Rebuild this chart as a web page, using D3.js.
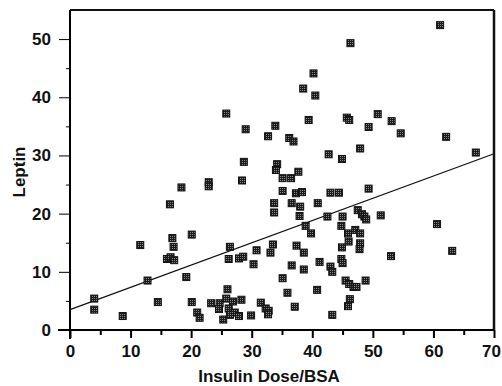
<html>
    <head>
        <meta charset="utf-8">
        <script src="https://d3js.org/d3.v7.min.js"></script>
        <title>Leptin vs Insulin Dose</title>
        <style>
            body { margin: 0; background: white; }
            text { font-family: "Liberation Sans", Arial, sans-serif; font-weight: bold; fill: #111; }
        </style>
    </head>
    <body>
        <svg id="scatter" width="502" height="386"></svg>
        <script>
            // data: [insulin dose/BSA, leptin]
            const xTicks = [0, 10, 20, 30, 40, 50, 60, 70];
            const yTicks = [0, 10, 20, 30, 40, 50];
            const xMinor = [5, 15, 25, 35, 45, 55, 65];
            const yMinor = [5, 15, 25, 35, 45];
            const fitLine = [[0, 3.5], [70, 30.3]];
            const dose = [
                4.0, 4.0, 8.7, 11.6, 12.8, 14.5, 16.5, 16.9, 17.1, 16.0, 16.6, 17.2, 18.4, 19.2, 20.1, 20.1, 21.0, 21.4,
                22.9, 22.9, 25.8, 29.0, 28.7, 28.4, 26.4, 26.2, 27.9, 28.6, 26.0,
                23.3, 24.7, 25.8, 26.9, 28.3, 24.6, 26.2, 27.2, 27.9, 26.4, 25.3, 29.9,
                30.3, 30.8, 31.5, 32.3, 32.8, 32.7, 33.1, 33.5, 33.7, 33.7, 33.9, 32.7, 34.2, 34.0,
                35.1, 36.5, 35.1, 37.3, 38.3, 37.7, 36.2, 36.9,
                36.6, 38.0, 37.9, 40.9, 38.9, 39.8, 37.4, 38.6, 36.6, 38.6, 35.1, 35.9, 37.1,
                38.5, 40.2, 40.5, 39.4,
                40.8, 41.2, 42.5, 42.7, 43.0, 44.4, 43.0, 43.3, 43.3,
                44.8, 45.0, 44.8, 44.9, 45.0, 44.9,
                45.7, 46.1, 46.3, 45.9, 47.1, 47.9, 46.0, 47.9, 47.8,
                45.5, 46.1, 46.8, 47.3, 48.8, 46.2, 45.9,
                47.5, 48.2, 48.6, 48.9,
                47.9, 49.3, 49.3, 50.8, 51.3, 53.1, 54.6, 53.0,
                60.6, 61.1, 62.1, 63.1, 67.0
            ];
            const leptin = [
                5.4, 3.5, 2.4, 14.6, 8.5, 4.8, 21.6, 15.8, 14.3, 12.2, 12.5, 12.0, 24.5, 9.1, 16.4, 4.8, 3.0, 2.1,
                25.4, 24.7, 37.2, 34.5, 28.9, 25.7, 14.3, 12.2, 12.3, 12.6, 7.0,
                4.6, 4.6, 5.4, 4.9, 5.2, 3.6, 3.7, 3.0, 2.4, 2.6, 1.8, 2.5,
                11.3, 13.7, 4.7, 3.7, 3.3, 2.7, 13.3, 14.7, 21.8, 20.2, 35.1, 33.3, 28.5, 27.5,
                26.1, 26.1, 23.9, 23.5, 23.7, 27.2, 33.0, 32.4,
                21.8, 21.2, 19.6, 21.8, 17.9, 16.6, 14.5, 13.3, 11.1, 10.4, 8.9, 6.4, 4.0,
                41.5, 44.1, 40.3, 36.1,
                6.9, 11.7, 19.5, 30.2, 23.6, 23.6, 10.9, 10.0, 2.6,
                12.2, 11.5, 17.9, 14.2, 19.5, 29.4,
                36.5, 36.1, 49.3, 16.6, 17.2, 16.6, 15.2, 14.9, 13.9,
                8.5, 7.9, 7.4, 7.4, 8.5, 5.3, 4.1,
                20.6, 19.9, 19.5, 19.0,
                31.2, 34.9, 24.3, 37.1, 19.7, 35.9, 33.8, 12.7,
                18.2, 52.4, 33.2, 13.6, 30.5
            ];

            const svg = d3.select("#scatter");
            const x = d3.scaleLinear().domain([0, 70]).range([70, 494]);
            const y = d3.scaleLinear().domain([0, 55]).range([330, 10]);

            // halftone fill for the markers
            const pat = svg.append("defs").append("pattern")
                           .attr("id", "dots")
                           .attr("width", 2).attr("height", 2)
                           .attr("patternUnits", "userSpaceOnUse");
            pat.append("rect").attr("width", 2).attr("height", 2).attr("fill", "#1c1c1c");
            pat.append("rect").attr("width", 1).attr("height", 1).attr("fill", "#8a8a8a");

            // frame top and right
            svg.append("line").attr("x1", 70).attr("x2", x(70)).attr("y1", y(55)).attr("y2", y(55))
               .attr("stroke", "#111").attr("stroke-width", 2);
            svg.append("line").attr("x1", x(70)).attr("x2", x(70)).attr("y1", y(55)).attr("y2", y(0))
               .attr("stroke", "#111").attr("stroke-width", 2.5);

            // minor ticks
            svg.append("g").attr("transform", "translate(0,330)")
               .call(d3.axisBottom(x).tickValues(xMinor).tickSize(5).tickFormat(""))
               .call(g => g.select(".domain").remove())
               .selectAll("line").attr("stroke-width", 2);
            svg.append("g").attr("transform", "translate(70,0)")
               .call(d3.axisLeft(y).tickValues(yMinor).tickSize(4).tickFormat(""))
               .call(g => g.select(".domain").remove());

            const xAxis = svg.append("g").attr("transform", "translate(0,330)")
               .call(d3.axisBottom(x).tickValues(xTicks).tickSize(8).tickPadding(7).tickSizeOuter(0));
            xAxis.selectAll("line").attr("stroke-width", 2);
            xAxis.select(".domain").attr("stroke-width", 2).attr("d", "M58,0H" + x(70));
            xAxis.selectAll("text").style("font-size", "17px")
                 .attr("dx", d => d === 70 ? -3 : 0);

            const yAxis = svg.append("g").attr("transform", "translate(70,0)")
               .call(d3.axisLeft(y).tickValues(yTicks).tickSize(11).tickPadding(8).tickSizeOuter(0));
            yAxis.select(".domain").attr("stroke-width", 2).attr("d", "M0," + y(55) + "V339");
            yAxis.selectAll("text").style("font-size", "17px");

            // regression line
            svg.append("path")
               .datum(fitLine)
               .attr("d", d3.line().x(d => x(d[0])).y(d => y(d[1])))
               .attr("fill", "none")
               .attr("stroke", "#111")
               .attr("stroke-width", 1.2);

            const pts = d3.zip(dose, leptin);
            svg.selectAll("rect.pt")
               .data(pts)
               .join("rect")
               .attr("class", "pt")
               .attr("x", d => x(d[0]) - 3.5)
               .attr("y", d => y(d[1]) - 3.5)
               .attr("width", 7)
               .attr("height", 7)
               .attr("fill", "url(#dots)")
               .attr("stroke", "#111")
               .attr("stroke-width", 1);

            svg.append("text")
               .attr("x", 269).attr("y", 382)
               .attr("text-anchor", "middle")
               .style("font-size", "17px")
               .text("Insulin Dose/BSA");

            svg.append("text")
               .attr("transform", "translate(25,172) rotate(-90)")
               .attr("text-anchor", "middle")
               .style("font-size", "17px")
               .text("Leptin");
        </script>
    </body>
</html>
